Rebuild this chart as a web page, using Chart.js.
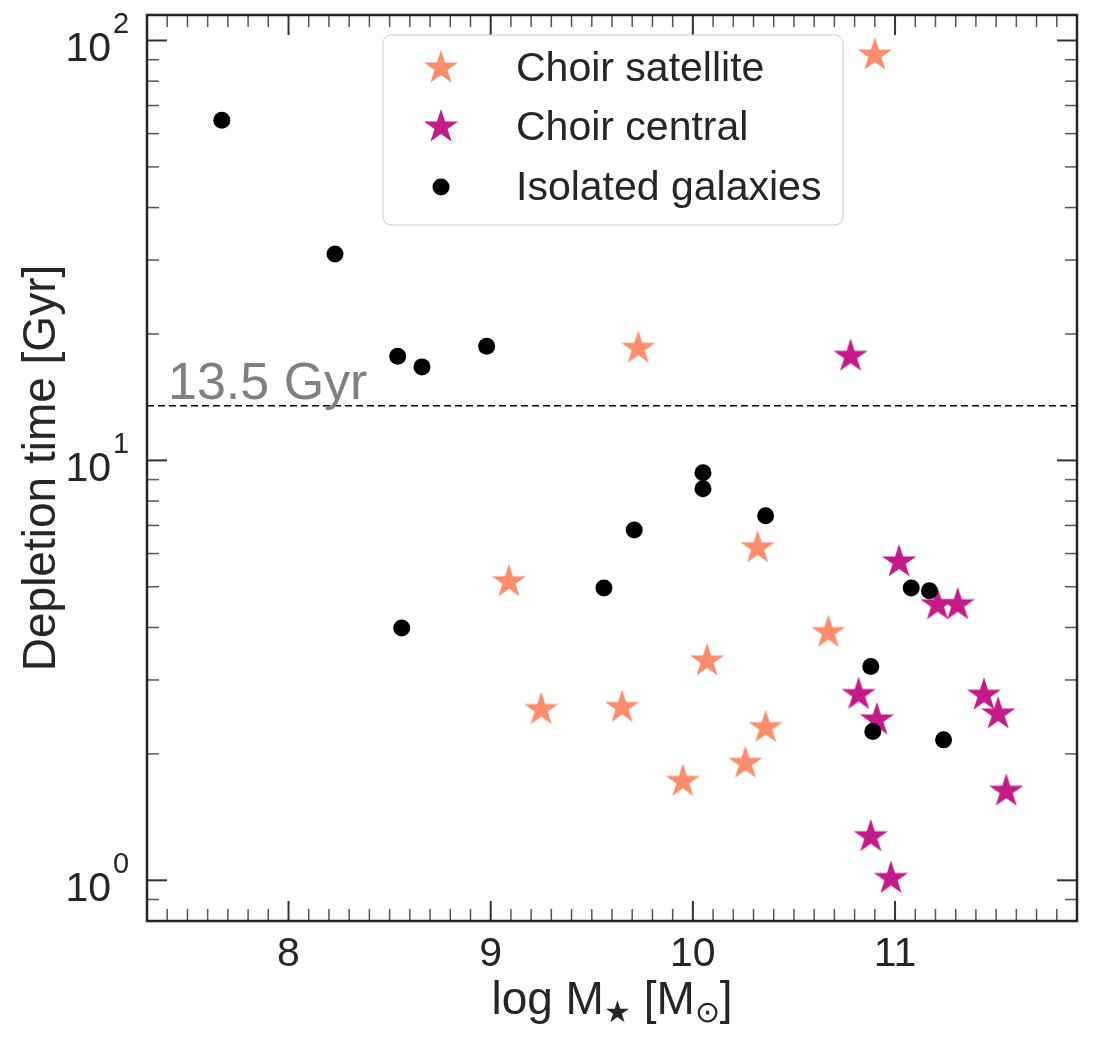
<!DOCTYPE html>
<html lang="en">
  <head>
    <meta charset="UTF-8" />
    <title>Depletion time vs stellar mass</title>
    <script src="https://cdn.jsdelivr.net/npm/chart.js@4.4.1/dist/chart.umd.min.js"></script>
    <style>
      body {
        margin: 0;
        background-color: #ffffff;
      }
      .chart-container {
        width: 1093px;
        height: 1041px;
      }
    </style>
  </head>
  <body>
    <div class="chart-container">
      <canvas id="depletionChart" width="1093" height="1041"></canvas>
    </div>

    <script>
      // Choir satellites
      const satMass = [10.90, 9.73, 9.09, 10.32, 10.67, 10.07, 9.25, 9.65, 10.36, 10.26, 9.95];
      const satTdep = [92.3, 18.5, 5.14, 6.19, 3.89, 3.33, 2.55, 2.58, 2.31, 1.90, 1.72];

      // Choir centrals
      const cenMass = [10.78, 11.02, 11.21, 11.31, 10.82, 10.91, 11.44, 11.51, 11.55, 10.88, 10.98];
      const cenTdep = [17.7, 5.73, 4.53, 4.53, 2.77, 2.41, 2.76, 2.49, 1.63, 1.27, 1.01];

      // Isolated galaxies
      const isoMass = [7.67, 8.23, 8.54, 8.66, 8.98, 8.56, 9.56, 9.71, 10.05, 10.05, 10.36, 11.08, 11.17, 10.88, 10.89, 11.24];
      const isoTdep = [64.6, 31.0, 17.7, 16.7, 18.7, 3.99, 4.97, 6.83, 9.34, 8.56, 7.38, 4.97, 4.89, 3.23, 2.26, 2.16];

      // Hubble time reference line
      const hubbleTime = 13.5;
      const hubbleLabel = "13.5 Gyr";

      // Axes
      const xMin = 7.3;
      const xMax = 11.9;
      const yMin = 0.8;
      const yMax = 115;
      const xTickValues = [8, 9, 10, 11];
      const yTickExps = [0, 1, 2];

      const seriesNames = ["Choir satellite", "Choir central", "Isolated galaxies"];
      const satColor = "#fc8d6c";
      const cenColor = "#c51b8a";
      const isoColor = "#000000";

      const FONT = '"Liberation Sans", Arial, sans-serif';
      const TEXT = "#262626";

      function makeStar(color, r) {
        const c = document.createElement("canvas");
        const size = Math.ceil(2 * r + 4);
        c.width = size;
        c.height = size;
        const g = c.getContext("2d");
        g.beginPath();
        for (let i = 0; i < 10; i++) {
          const rad = i % 2 ? r * 0.381966 : r;
          const a = -Math.PI / 2 + (i * Math.PI) / 5;
          g.lineTo(size / 2 + rad * Math.cos(a), size / 2 + rad * Math.sin(a));
        }
        g.closePath();
        g.fillStyle = color;
        g.fill();
        return c;
      }

      const satStar = makeStar(satColor, 18);
      const cenStar = makeStar(cenColor, 18);

      const toPoints = (xs, ys) => xs.map((x, i) => ({ x: x, y: ys[i] }));

      // frame, inward ticks, tick labels, axis titles, legend
      const decorations = {
        id: "decorations",
        afterDraw(chart) {
          const { ctx, chartArea: a, scales } = chart;
          const xs = scales.x;
          const ys = scales.y;
          ctx.save();

          const tick = (x1, y1, x2, y2, w, col) => {
            ctx.beginPath();
            ctx.moveTo(x1, y1);
            ctx.lineTo(x2, y2);
            ctx.lineWidth = w;
            ctx.strokeStyle = col;
            ctx.stroke();
          };
          for (let i = Math.ceil(xMin * 10); i <= Math.floor(xMax * 10); i++) {
            const v = i / 10;
            const px = xs.getPixelForValue(v);
            const major = i % 10 === 0;
            const len = major ? 20 : 12;
            const w = major ? 2 : 1.5;
            const col = major ? "#333" : "#555";
            tick(px, a.bottom, px, a.bottom - len, w, col);
            tick(px, a.top, px, a.top + len, w, col);
          }
          for (let e = -1; e <= 2; e++) {
            for (let k = 1; k <= 9; k++) {
              const v = k * Math.pow(10, e);
              if (v < yMin || v > yMax) continue;
              const py = ys.getPixelForValue(v);
              const major = k === 1;
              const len = major ? 20 : 12;
              const w = major ? 2 : 1.5;
              const col = major ? "#333" : "#555";
              tick(a.left, py, a.left + len, py, w, col);
              tick(a.right, py, a.right - len, py, w, col);
            }
          }

          // frame
          ctx.lineWidth = 2.5;
          ctx.strokeStyle = "#262626";
          ctx.strokeRect(a.left, a.top, a.right - a.left, a.bottom - a.top);

          // x tick labels
          ctx.fillStyle = TEXT;
          ctx.font = "41px " + FONT;
          ctx.textAlign = "center";
          ctx.textBaseline = "alphabetic";
          xTickValues.forEach((v) => {
            ctx.fillText(String(v), xs.getPixelForValue(v), a.bottom + 45);
          });

          // y tick labels 10^n
          yTickExps.forEach((n) => {
            const py = ys.getPixelForValue(Math.pow(10, n));
            ctx.font = "41px " + FONT;
            ctx.textAlign = "right";
            ctx.fillText("10", 111, py + 21);
            ctx.font = "29px " + FONT;
            ctx.textAlign = "left";
            ctx.fillText(String(n), 113, py - 7);
          });

          // y axis title
          ctx.save();
          ctx.translate(55, (a.top + a.bottom) / 2);
          ctx.rotate(-Math.PI / 2);
          ctx.font = "46px " + FONT;
          ctx.textAlign = "center";
          ctx.fillStyle = TEXT;
          ctx.fillText("Depletion time [Gyr]", 0, 0);
          ctx.restore();

          // x axis title: log M★ [M⊙]
          const parts = [
            { t: "log M", f: 46, dy: 0 },
            { t: "\u2605", f: 30, dy: 8 },
            { t: " [M", f: 46, dy: 0 },
            { t: "\u2299", f: 30, dy: 8 },
            { t: "]", f: 46, dy: 0 },
          ];
          let total = 0;
          parts.forEach((p) => {
            ctx.font = p.f + "px " + FONT;
            p.w = ctx.measureText(p.t).width;
            total += p.w;
          });
          let cx = (a.left + a.right) / 2 - total / 2;
          ctx.textAlign = "left";
          parts.forEach((p) => {
            ctx.font = p.f + "px " + FONT;
            ctx.fillText(p.t, cx, 1014 + p.dy);
            cx += p.w;
          });

          // reference line label
          ctx.font = "52px " + FONT;
          ctx.fillStyle = "#808080";
          ctx.textAlign = "left";
          ctx.fillText(hubbleLabel, 168, ys.getPixelForValue(hubbleTime) - 7);

          // legend
          const lx = 383, ly = 35, lw = 460, lh = 190;
          ctx.beginPath();
          ctx.roundRect(lx, ly, lw, lh, 8);
          ctx.fillStyle = "rgba(255,255,255,0.8)";
          ctx.fill();
          ctx.lineWidth = 1;
          ctx.strokeStyle = "#cccccc";
          ctx.stroke();
          const rows = [68, 127, 187];
          ctx.drawImage(satStar, 441 - satStar.width / 2, rows[0] - satStar.height / 2);
          ctx.drawImage(cenStar, 441 - cenStar.width / 2, rows[1] - cenStar.height / 2);
          ctx.beginPath();
          ctx.arc(441, rows[2], 8.5, 0, Math.PI * 2);
          ctx.fillStyle = isoColor;
          ctx.fill();
          ctx.font = "41px " + FONT;
          ctx.fillStyle = TEXT;
          ctx.textBaseline = "middle";
          seriesNames.forEach((name, i) => {
            ctx.fillText(name, 516, rows[i] + 2);
          });

          ctx.restore();
        },
      };

      const ctx = document.getElementById("depletionChart").getContext("2d");

      const depletionChart = new Chart(ctx, {
        type: "scatter",
        data: {
          datasets: [
            {
              label: "13.5 Gyr",
              type: "line",
              data: [
                { x: xMin, y: hubbleTime },
                { x: xMax, y: hubbleTime },
              ],
              borderColor: "#000000",
              borderWidth: 1.5,
              borderDash: [7, 4],
              pointRadius: 0,
              fill: false,
              order: 4,
            },
            {
              label: seriesNames[0],
              data: toPoints(satMass, satTdep),
              pointStyle: satStar,
              order: 3,
            },
            {
              label: seriesNames[1],
              data: toPoints(cenMass, cenTdep),
              pointStyle: cenStar,
              order: 2,
            },
            {
              label: seriesNames[2],
              data: toPoints(isoMass, isoTdep),
              pointStyle: "circle",
              pointRadius: 8.5,
              backgroundColor: isoColor,
              borderColor: isoColor,
              borderWidth: 0,
              order: 1,
            },
          ],
        },
        options: {
          responsive: false,
          animation: false,
          events: [],
          layout: {
            padding: { top: 15, right: 16, left: 0, bottom: 0 },
          },
          scales: {
            x: {
              type: "linear",
              min: xMin,
              max: xMax,
              grid: { display: false },
              border: { display: false },
              ticks: { display: false },
              afterFit: (s) => {
                s.height = 120;
              },
            },
            y: {
              type: "logarithmic",
              min: yMin,
              max: yMax,
              grid: { display: false },
              border: { display: false },
              ticks: { display: false },
              afterFit: (s) => {
                s.width = 147;
              },
            },
          },
          plugins: {
            legend: { display: false },
            tooltip: { enabled: false },
          },
        },
        plugins: [decorations],
      });
    </script>
  </body>
</html>
